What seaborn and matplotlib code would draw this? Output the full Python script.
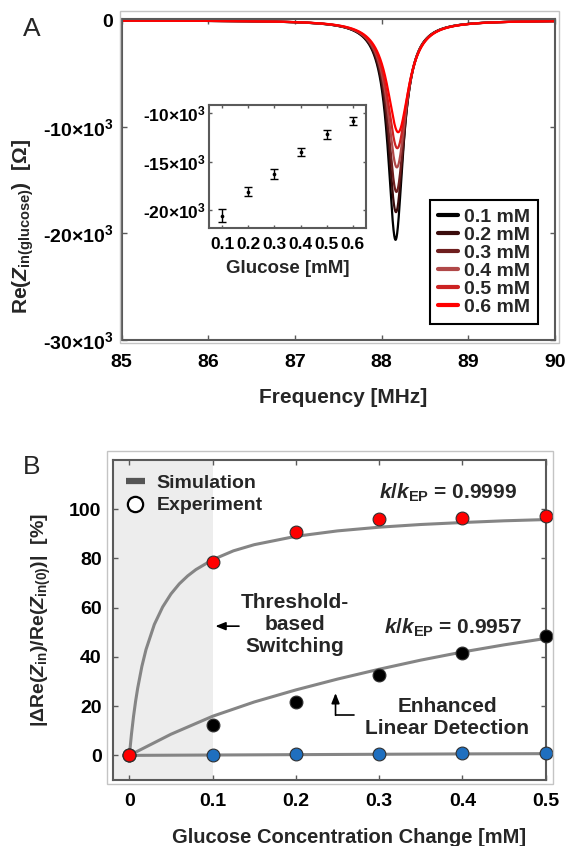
import numpy as np
import pandas as pd
import matplotlib
matplotlib.use("Agg")
import matplotlib.pyplot as plt
import seaborn as sns
from matplotlib.patches import Rectangle
from matplotlib.lines import Line2D

# ---------------- Panel A data ----------------
conc_labels = ["0.1 mM", "0.2 mM", "0.3 mM", "0.4 mM", "0.5 mM", "0.6 mM"]
dip_depth = [-20.6e3, -18.0e3, -16.1e3, -13.8e3, -12.0e3, -10.5e3]
dip_center = [88.160, 88.165, 88.170, 88.175, 88.180, 88.190]
dip_halfwidth = [0.107, 0.115, 0.121, 0.131, 0.140, 0.150]
curve_colors = ["#000000", "#3a0c0c", "#6e1e1e", "#b04848", "#cc2222", "#ff0000"]

inset_conc = [0.1, 0.2, 0.3, 0.4, 0.5, 0.6]
inset_val = [-20.6e3, -18.1e3, -16.3e3, -14.0e3, -12.2e3, -10.8e3]
inset_err = [0.7e3, 0.5e3, 0.5e3, 0.4e3, 0.5e3, 0.4e3]

a_xticks = [85, 86, 87, 88, 89, 90]
a_yticks = [0, -10e3, -20e3, -30e3]
a_yticklabels = ["0", "-10×10$^{3}$", "-20×10$^{3}$", "-30×10$^{3}$"]
in_yticks = [-10e3, -15e3, -20e3]
in_yticklabels = ["-10×10$^{3}$", "-15×10$^{3}$", "-20×10$^{3}$"]

# ---------------- Panel B data ----------------
exp_x = [0, 0.1, 0.2, 0.3, 0.4, 0.5]
exp_red = [0, 78.4, 90.9, 95.9, 96.3, 97.2]
exp_black = [0, 12.5, 21.7, 32.8, 41.4, 48.6]
exp_blue = [0, 0.3, 0.4, 0.5, 0.8, 1.0]

sim_red_x = [0, 0.0025, 0.005, 0.0075, 0.01, 0.015, 0.02, 0.03, 0.04, 0.05, 0.06,
             0.07, 0.08, 0.1, 0.125, 0.15, 0.2, 0.25, 0.3, 0.35, 0.4, 0.45, 0.5]
sim_red_y = [0, 8.5, 15.8, 22.0, 27.3, 36.1, 43.0, 53.2, 60.3, 65.6, 69.7,
             72.9, 75.5, 79.5, 83.1, 85.6, 89.0, 91.2, 92.7, 93.8, 94.6, 95.3, 95.8]
sim_black_x = [0, 0.05, 0.1, 0.15, 0.2, 0.25, 0.3, 0.35, 0.4, 0.45, 0.5]
sim_black_y = [0, 8.6, 15.9, 21.7, 26.6, 31.0, 35.0, 38.7, 42.0, 44.9, 47.5]
sim_blue_x = [0, 0.1, 0.2, 0.3, 0.4, 0.5]
sim_blue_y = [0, 0.15, 0.3, 0.45, 0.6, 0.7]

b_xticks = [0, 0.1, 0.2, 0.3, 0.4, 0.5]
b_xticklabels = ["0", "0.1", "0.2", "0.3", "0.4", "0.5"]
b_yticks = [0, 20, 40, 60, 80, 100]

# ---------------- style ----------------
sns.set_theme(style="ticks")
plt.rcParams.update({
    "font.family": ["Liberation Sans", "DejaVu Sans"],
    "font.weight": "bold",
    "axes.labelweight": "bold",
    "mathtext.fontset": "custom",
    "mathtext.rm": "Liberation Sans:bold",
    "mathtext.it": "Liberation Sans:italic:bold",
    "mathtext.bf": "Liberation Sans:bold",
    "xtick.direction": "in",
    "ytick.direction": "in",
    "axes.edgecolor": "#5a5a5a",
    "xtick.color": "#5a5a5a",
    "ytick.color": "#5a5a5a",
    "xtick.labelcolor": "black",
    "ytick.labelcolor": "black",
    "axes.linewidth": 1.5,
})

W, H = 567, 846
fig = plt.figure(figsize=(W / 100, H / 100), dpi=100)


def fig_rect(l, t, r, b):
    return [l / W, 1 - b / H, (r - l) / W, (b - t) / H]


def gray_frame(l, t, r, b):
    fig.add_artist(Rectangle((l / W, 1 - b / H), (r - l) / W, (b - t) / H,
                             transform=fig.transFigure, fill=False,
                             ec="#c4c4c4", lw=1.0))


def style_ticks(ax, size, xpad, ypad, length=3.5):
    ax.tick_params(axis="both", which="both", direction="in", top=True, right=True,
                   length=length, width=1.0, labelsize=size)
    ax.tick_params(axis="x", pad=xpad)
    ax.tick_params(axis="y", pad=ypad)
    for lab in ax.get_xticklabels() + ax.get_yticklabels():
        lab.set_fontweight("bold")


# ================= Panel A =================
gray_frame(119.5, 10.7, 559, 343)
axA = fig.add_axes(fig_rect(121.7, 19.3, 555, 340))
freq = np.linspace(85, 90, 3001)
frames = []
for lab, d, c, g in zip(conc_labels, dip_depth, dip_center, dip_halfwidth):
    frames.append(pd.DataFrame({"f": freq, "z": d / (1 + ((freq - c) / g) ** 2), "conc": lab}))
dfA = pd.concat(frames, ignore_index=True)
sns.lineplot(data=dfA, x="f", y="z", hue="conc", hue_order=conc_labels,
             palette=curve_colors, lw=1.6, sort=False, estimator=None,
             legend=False, ax=axA)
axA.set_xlim(85, 90)
axA.set_ylim(-30e3, 100)
axA.set_xticks(a_xticks)
axA.set_xticklabels([str(t) for t in a_xticks])
axA.set_yticks(a_yticks)
axA.set_yticklabels(a_yticklabels)
style_ticks(axA, 14, xpad=10, ypad=6)
axA.set_xlabel("Frequency [MHz]", fontsize=15, fontweight="bold")
axA.xaxis.set_label_coords(0.51, -0.15)
axA.set_ylabel(r"Re($Z_{\mathrm{in(glucose)}}$)  [Ω]", fontsize=15, fontweight="bold")
axA.yaxis.set_label_coords(-0.198, 0.355)

handlesA = [Line2D([], [], color=c, lw=3) for c in curve_colors]
legA = axA.legend(handlesA, conc_labels, loc="lower right", bbox_to_anchor=(0.961, 0.051),
                  frameon=True, fancybox=False, edgecolor="black", framealpha=1,
                  prop={"size": 14, "weight": "bold"}, handlelength=1.05,
                  handletextpad=0.3, labelspacing=0.02, borderpad=0.4, borderaxespad=0)
legA.get_frame().set_linewidth(1.5)

# inset
axI = fig.add_axes(fig_rect(209, 105, 366, 228.3))
axI.set_facecolor("white")
axI.errorbar(inset_conc, inset_val, yerr=inset_err, fmt="none", ecolor="black",
             elinewidth=1.0, capsize=2.8, capthick=1.0)
sns.scatterplot(x=inset_conc, y=inset_val, color="black", s=7, linewidth=0, ax=axI, zorder=3)
axI.set_xlim(0.05, 0.65)
axI.set_ylim(-21.9e3, -9.15e3)
axI.set_xticks(inset_conc)
axI.set_xticklabels(["0.1", "0.2", "0.3", "0.4", "0.5", "0.6"])
axI.set_yticks(in_yticks)
axI.set_yticklabels(in_yticklabels)
style_ticks(axI, 12.5, xpad=6, ypad=2, length=2.5)
axI.set_xlabel("Glucose [mM]", fontsize=13.5, fontweight="bold", labelpad=6)

fig.text(32 / W, 1 - 29 / H, "A", fontsize=19, fontweight="normal", ha="center", va="center")

# ================= Panel B =================
gray_frame(106.7, 450.7, 553.3, 784)
axB = fig.add_axes(fig_rect(112.7, 460, 545.7, 780))
axB.axvspan(-0.02, 0.1, color="#ededed", zorder=0, lw=0)
for sx, sy in [(sim_blue_x, sim_blue_y), (sim_black_x, sim_black_y), (sim_red_x, sim_red_y)]:
    sns.lineplot(x=sx, y=sy, color="#858585", lw=2.2, sort=False, estimator=None,
                 ax=axB, zorder=2)
for ey, col in [(exp_blue, "#1f6fbf"), (exp_black, "#000000"), (exp_red, "#ff0000")]:
    sns.scatterplot(x=exp_x, y=ey, color=col, edgecolor="#303030", linewidth=0.8,
                    s=85, ax=axB, zorder=3, clip_on=False)
axB.set_xlim(-0.02, 0.5)
axB.set_ylim(-10, 120)
axB.set_xticks(b_xticks)
axB.set_xticklabels(b_xticklabels)
axB.set_yticks(b_yticks)
axB.set_yticklabels([str(t) for t in b_yticks])
style_ticks(axB, 14, xpad=9, ypad=8)
axB.set_xlabel("Glucose Concentration Change [mM]", fontsize=14.5, fontweight="bold")
axB.xaxis.set_label_coords(0.546, -0.15)
axB.set_ylabel(r"|ΔRe($Z_{\mathrm{in}}$)/Re($Z_{\mathrm{in(0)}}$)|  [%]", fontsize=14,
               fontweight="bold")
axB.yaxis.set_label_coords(-0.138, 0.5)

handlesB = [Line2D([], [], color="#555555", lw=4.5, solid_capstyle="butt"),
            Line2D([], [], ls="none", marker="o", mfc="white", mec="black", mew=1.6, ms=11)]
axB.legend(handlesB, ["Simulation", "Experiment"], loc="upper left",
           bbox_to_anchor=(0.03, 0.955), frameon=False,
           prop={"size": 14, "weight": "bold"}, handlelength=1.0, handletextpad=0.6,
           labelspacing=0.25, borderpad=0, borderaxespad=0)

axB.text(0.383, 106.6, r"$k$/$k_{\mathrm{EP}}$ = 0.9999", ha="center", va="center", fontsize=15)
axB.text(0.388, 52.0, r"$k$/$k_{\mathrm{EP}}$ = 0.9957", ha="center", va="center", fontsize=15)
axB.text(0.199, 53.0, "Threshold-\nbased\nSwitching", ha="center", va="center",
         fontsize=15, linespacing=1.2)
axB.text(0.382, 15.5, "Enhanced\nLinear Detection", ha="center", va="center",
         fontsize=15, linespacing=1.2)
axB.annotate("", xy=(0.1, 52.5), xytext=(0.135, 52.5),
             arrowprops=dict(arrowstyle="-|>,head_length=0.5,head_width=0.2", color="black", lw=1.2))
axB.plot([0.27, 0.2476], [16.3, 16.3], color="black", lw=1.2)
axB.annotate("", xy=(0.2476, 25.3), xytext=(0.2476, 16.3),
             arrowprops=dict(arrowstyle="-|>,head_length=0.5,head_width=0.2", color="black", lw=1.2,
                             shrinkA=0, shrinkB=0))

fig.text(32 / W, 1 - 467 / H, "B", fontsize=19, fontweight="normal", ha="center", va="center")

fig.savefig("out.png", dpi=100)
